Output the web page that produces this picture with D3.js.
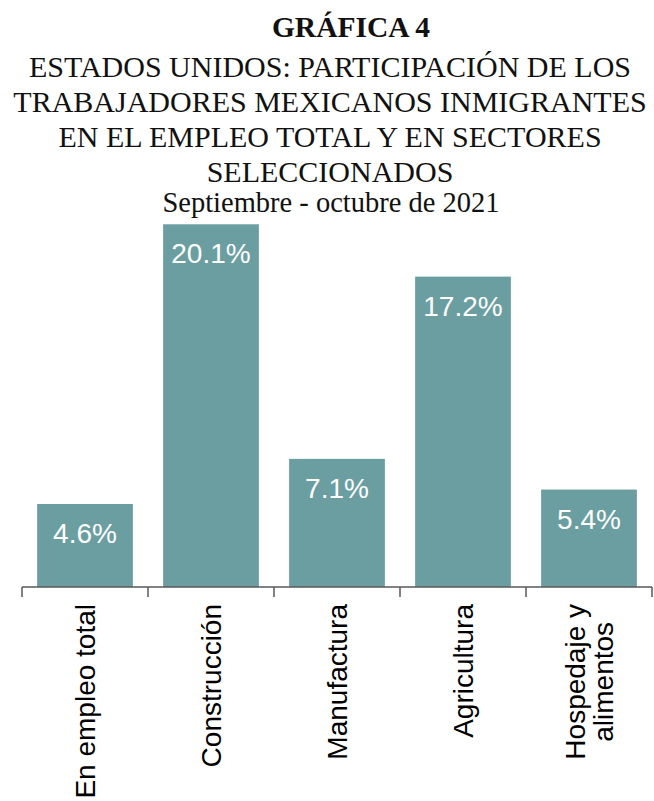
<!DOCTYPE html>
<html>
  <head>
    <meta charset="utf-8">
    <title>Grafica 4</title>
    <script src="https://d3js.org/d3.v7.min.js"></script>
    <style>
      body {
        margin: 0;
        background-color: #ffffff;
      }
      svg {
        display: block;
      }
      .titulo {
        font-family: 'Liberation Serif', 'Times New Roman', serif;
        fill: #111;
      }
      .eje text {
        font-family: 'Liberation Sans', Arial, sans-serif;
      }
    </style>
  </head>
  <body>
    <svg id="svg"></svg>

    <script type="text/javascript">
// datos de la grafica
var sectores = ["En empleo total", "Construcción", "Manufactura", "Agricultura", "Hospedaje y\nalimentos"];
var valores = [4.6, 20.1, 7.1, 17.2, 5.4];

var lineasTitulo = [
  "ESTADOS UNIDOS: PARTICIPACIÓN DE LOS",
  "TRABAJADORES MEXICANOS INMIGRANTES",
  "EN EL EMPLEO TOTAL Y EN SECTORES",
  "SELECCIONADOS"
];
var numeroGrafica = "GRÁFICA 4";
var subtitulo = "Septiembre - octubre de 2021";

var width = 654, height = 801;
var colorBarra = "#6a9ea1";

var svg = d3.select('#svg').attr('width', width).attr('height', height);

// titulo
svg.append('text')
  .attr('class', 'titulo')
  .attr('x', 351)
  .attr('y', 37)
  .attr('text-anchor', 'middle')
  .style('font-size', '29.5px')
  .style('font-weight', 'bold')
  .text(numeroGrafica);

svg.selectAll('.lineaTitulo')
  .data(lineasTitulo)
  .enter()
  .append('text')
  .attr('class', 'titulo lineaTitulo')
  .attr('x', 330)
  .attr('y', function(d, i) { return 77 + i * 35; })
  .attr('text-anchor', 'middle')
  .style('font-size', '30px')
  .text(function(d) { return d; });

svg.append('text')
  .attr('class', 'titulo')
  .attr('x', 331)
  .attr('y', 212)
  .attr('text-anchor', 'middle')
  .style('font-size', '28.5px')
  .text(subtitulo);

// escalas
var x = d3.scaleBand()
  .domain(sectores)
  .range([22, 652])
  .paddingInner(0.24)
  .paddingOuter(0.12);

var y = d3.scaleLinear()
  .domain([0, 22])
  .range([587, 190]);

// barras
svg.selectAll('.bar')
  .data(valores)
  .enter()
  .append('rect')
  .attr('class', 'bar')
  .attr('x', function(d, i) { return x(sectores[i]); })
  .attr('y', function(d) { return y(d); })
  .attr('width', x.bandwidth())
  .attr('height', function(d) { return y(0) - y(d); })
  .style('fill', colorBarra);

// etiquetas de valor
svg.selectAll('.valor')
  .data(valores)
  .enter()
  .append('text')
  .attr('class', 'valor')
  .attr('x', function(d, i) { return x(sectores[i]) + x.bandwidth() / 2; })
  .attr('y', function(d) { return y(d) + 39; })
  .attr('text-anchor', 'middle')
  .style('font-family', "'Liberation Sans', Arial, sans-serif")
  .style('font-size', '28px')
  .style('fill', '#ffffff')
  .text(function(d) { return d.toFixed(1) + '%'; });

// eje x: linea y marcas entre categorias
var eje = svg.append('g').attr('class', 'eje');
var colorEje = '#595959';

eje.append('line')
  .attr('x1', x.range()[0])
  .attr('x2', x.range()[1])
  .attr('y1', y(0))
  .attr('y2', y(0))
  .style('stroke', colorEje)
  .style('stroke-width', 1.5);

var marcas = sectores.map(function(s) { return x(s) - x.step() * x.paddingInner() / 2; });
marcas.push(x.range()[1]);
marcas[0] = x.range()[0];

eje.selectAll('.marca')
  .data(marcas)
  .enter()
  .append('line')
  .attr('class', 'marca')
  .attr('x1', function(d) { return d; })
  .attr('x2', function(d) { return d; })
  .attr('y1', y(0))
  .attr('y2', y(0) + 10)
  .style('stroke', colorEje)
  .style('stroke-width', 1.5);

// etiquetas rotadas
var topeEtiqueta = 604;
var interlinea = 28;

sectores.forEach(function(s) {
  var lineas = s.split('\n');
  var cx = x(s) + x.bandwidth() / 2;
  var t = eje.append('text')
    .style('font-size', '28px')
    .style('fill', '#000')
    .attr('text-anchor', 'middle');
  lineas.forEach(function(l, i) {
    t.append('tspan')
      .attr('x', 0)
      .attr('y', (i - (lineas.length - 1) / 2) * interlinea)
      .attr('dy', '0.35em')
      .text(l);
  });
  // medir la linea mas larga para centrar el bloque
  var largo = d3.max(t.selectAll('tspan').nodes(), function(n) { return n.getComputedTextLength(); });
  t.attr('transform', 'translate(' + cx + ',' + (topeEtiqueta + largo / 2) + ') rotate(-90)');
});
    </script>
  </body>
</html>
